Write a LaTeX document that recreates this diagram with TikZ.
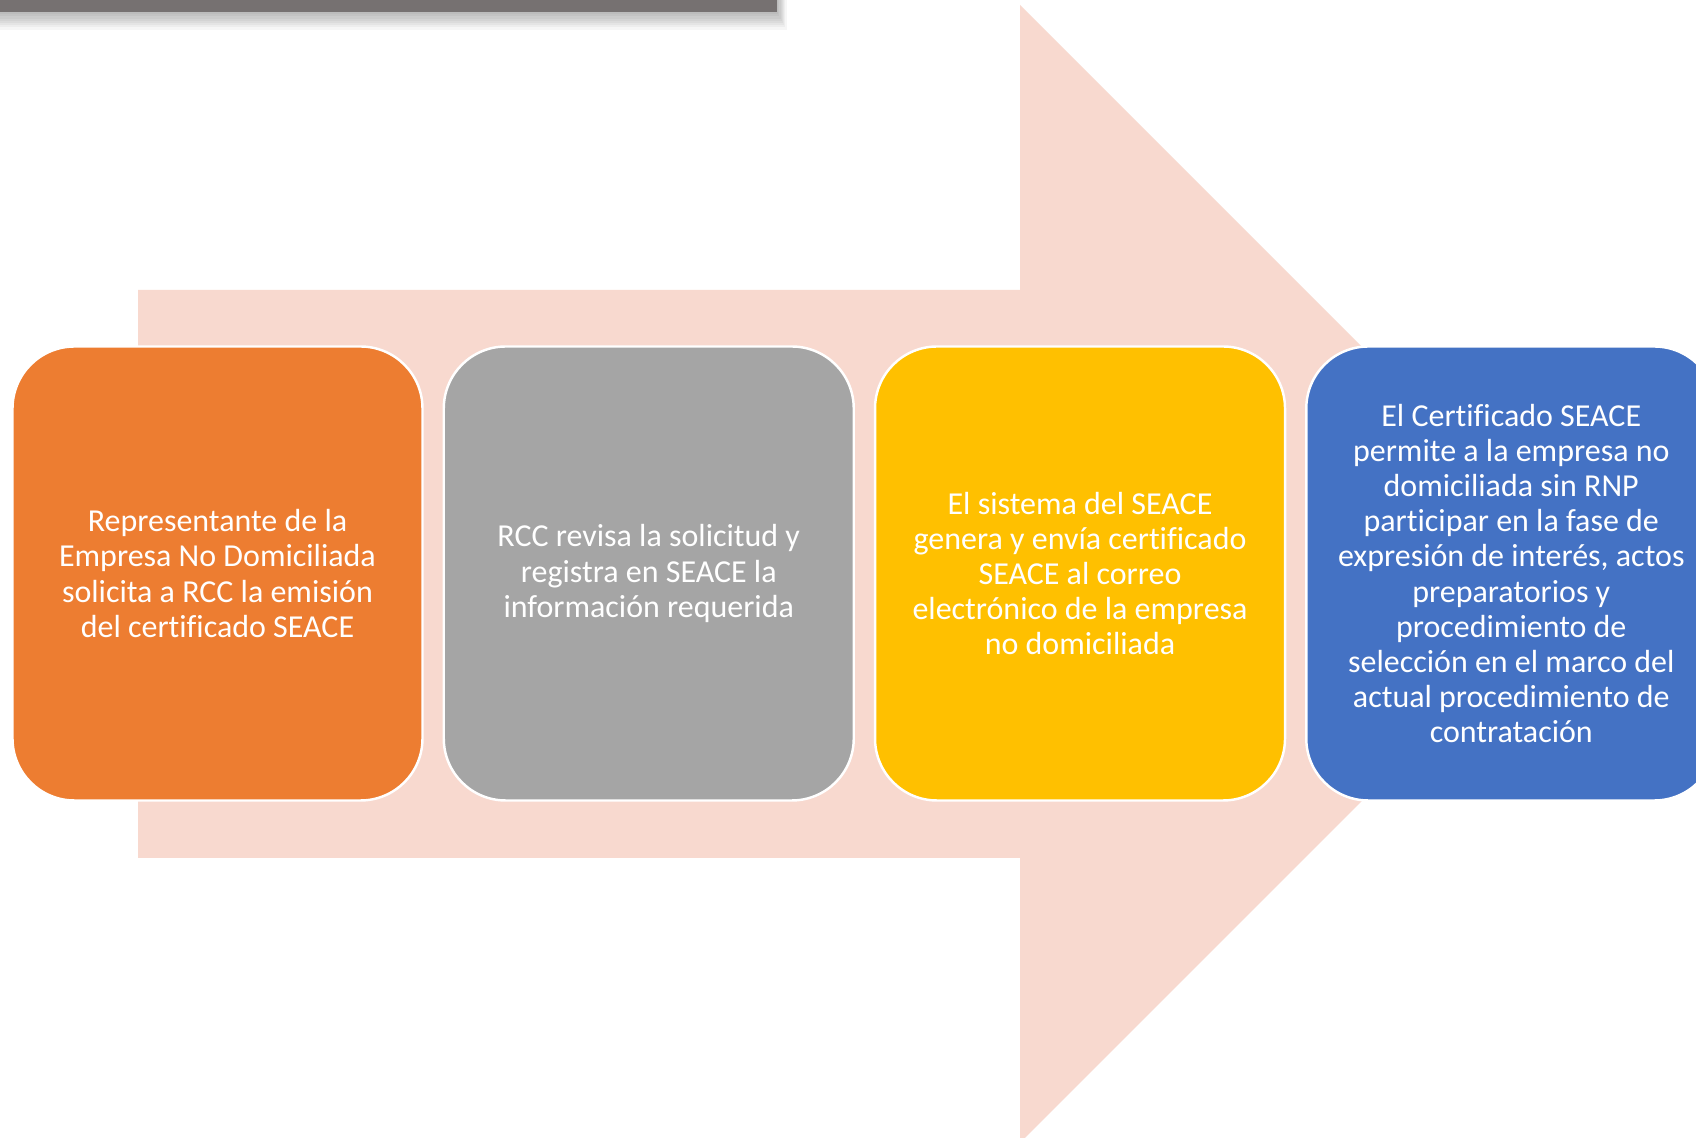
\documentclass[tikz,border=0pt]{standalone}
\usepackage{fontspec}
\setmainfont{Carlito}[Ligatures=CommonOff]
\usetikzlibrary{positioning}
\tikzstyle{flowChart} = [y = -1cm]
\definecolor{arrowColor}{HTML}{F8D9CF}
\definecolor{barColor}{HTML}{767171}
\definecolor{stepOrange}{HTML}{ED7D31}
\definecolor{stepGray}{HTML}{A5A5A5}
\definecolor{stepYellow}{HTML}{FFC000}
\definecolor{stepBlue}{HTML}{4472C4}
\tikzstyle{stepStyle} = [draw=white, line width=.7pt, rounded corners = .62cm, minimum width = 4.10cm, minimum height = 4.54cm, align=center, text=white, font=\fontsize{9.1}{10}\selectfont]
\tikzstyle{shadowLayer} = [fill=black, opacity=0.035]
\newcommand{\stepNode}[4]{\node [stepStyle, fill=#2, #3] (#1) {#4};}

\begin{document}
\begin{tikzpicture}[flowChart]
  \clip (0,0) rectangle (16.96,11.38);
  \fill [white] (0,0) rectangle (16.96,11.38);
  % title bar with its shadow
  \foreach \i in {1,...,8} {
    \fill [shadowLayer] (0,0) rectangle (7.77 + \i * .012, .12 + \i * .022);
  }
  \fill [barColor] (0,0) rectangle (7.77,.12);
  % arrow behind the steps
  \fill [arrowColor] (1.38,2.90) -- (10.20,2.90) -- (10.20,.05) -- (15.89,5.74)
    -- (10.20,11.43) -- (10.20,8.58) -- (1.38,8.58) -- cycle;
  % steps
  \stepNode{solicita}{stepOrange}{at={(2.175,5.735)}}{Representante de la\\Empresa No Domiciliada\\solicita a RCC la emisión\\del certificado SEACE}
  \stepNode{revisa}{stepGray}{right=.188cm of solicita}{RCC revisa la solicitud y\\registra en SEACE la\\información requerida}
  \stepNode{envia}{stepYellow}{right=.188cm of revisa}{El sistema del SEACE\\genera y envía certificado\\SEACE al correo\\electrónico de la empresa\\no domiciliada}
  \stepNode{permite}{stepBlue}{right=.188cm of envia}{El Certificado SEACE\\permite a la empresa no\\domiciliada sin RNP\\participar en la fase de\\expresión de interés, actos\\preparatorios y\\procedimiento de\\selección en el marco del\\actual procedimiento de\\contratación}
\end{tikzpicture}
\end{document}
